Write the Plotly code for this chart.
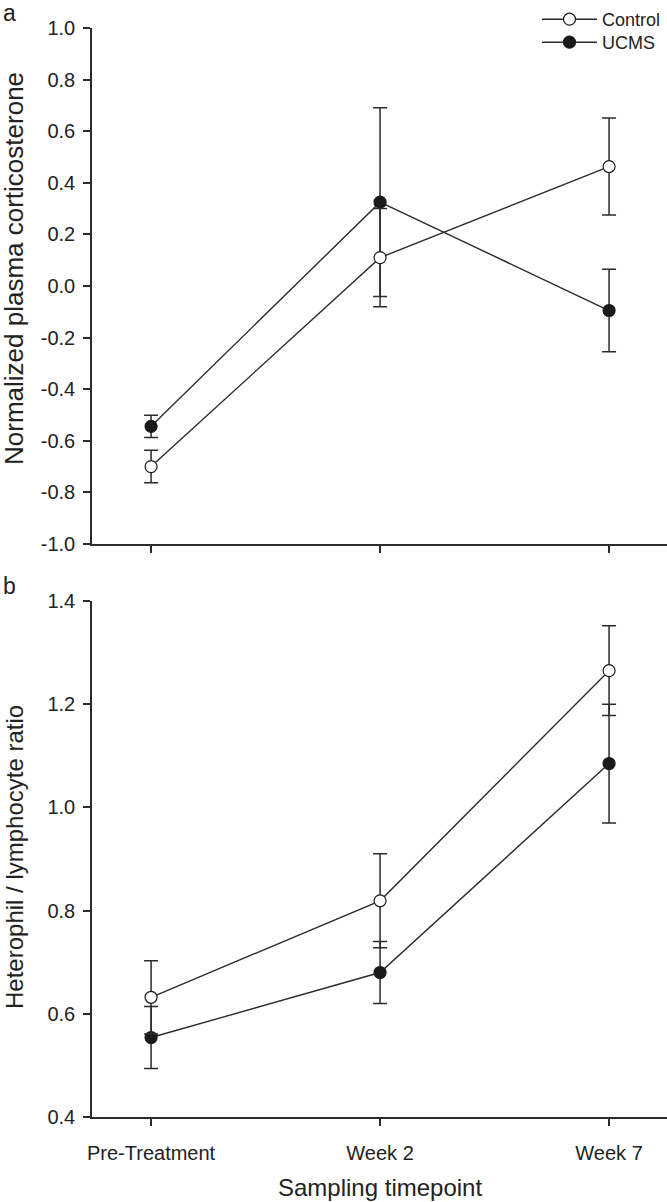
import plotly.graph_objects as go

categories = ["Pre-Treatment", "Week 2", "Week 7"]

cort_control = [-0.700, 0.110, 0.463]
cort_control_err = [0.063, 0.190, 0.188]
cort_ucms = [-0.544, 0.325, -0.095]
cort_ucms_err = [0.043, 0.366, 0.160]

hl_control = [0.632, 0.819, 1.265]
hl_control_err = [0.071, 0.091, 0.087]
hl_ucms = [0.554, 0.680, 1.085]
hl_ucms_err = [0.060, 0.060, 0.115]

cort_ticks = [-1.0, -0.8, -0.6, -0.4, -0.2, 0.0, 0.2, 0.4, 0.6, 0.8, 1.0]
hl_ticks = [0.4, 0.6, 0.8, 1.0, 1.2, 1.4]

W, H = 667, 1202


def px(x):
    return x / W


def py(y):
    return 1 - y / H


LINE = "#2b2b2b"
FONT = "Liberation Sans, Arial, Helvetica, sans-serif"

fig = go.Figure()


def add_series(x, y, err, name, fill, xa, ya):
    fig.add_trace(go.Scatter(
        x=x, y=y, name=name, mode="lines+markers",
        xaxis=xa, yaxis=ya, showlegend=False,
        line=dict(color=LINE, width=1.4),
        marker=dict(symbol="circle", size=12, color=fill,
                    line=dict(color="#1a1a1a", width=1.2)),
        error_y=dict(type="data", array=err, visible=True,
                     color=LINE, thickness=1.5, width=7),
    ))


add_series(categories, cort_ucms, cort_ucms_err, "UCMS", "#1a1a1a", "x", "y")
add_series(categories, cort_control, cort_control_err, "Control", "white", "x", "y")
add_series(categories, hl_ucms, hl_ucms_err, "UCMS", "#1a1a1a", "x2", "y2")
add_series(categories, hl_control, hl_control_err, "Control", "white", "x2", "y2")

# legend entries
fig.add_trace(go.Scatter(x=[None], y=[None], name="Control", mode="lines+markers",
                         xaxis="x", yaxis="y", legend="legend",
                         line=dict(color=LINE, width=1.4),
                         marker=dict(size=12, color="white", line=dict(color="#1a1a1a", width=1.2))))
fig.add_trace(go.Scatter(x=[None], y=[None], name="UCMS", mode="lines+markers",
                         xaxis="x", yaxis="y", legend="legend2",
                         line=dict(color=LINE, width=1.4),
                         marker=dict(size=12, color="#1a1a1a", line=dict(color="#1a1a1a", width=1.2))))

xdom = [px(92), 1.0]
ydom_top = [py(544), py(28)]
ydom_bot = [py(1117), py(601)]

axis_common = dict(showline=True, linecolor=LINE, linewidth=1.5, ticks="outside",
                   ticklen=7, tickwidth=1.5, tickcolor=LINE, showgrid=False,
                   zeroline=False, automargin=False,
                   tickfont=dict(family=FONT, size=20, color="#222"))

legend_common = dict(xanchor="left", yanchor="top", bgcolor="rgba(0,0,0,0)",
                     font=dict(family=FONT, size=18, color="#222"), itemwidth=55)

fig.update_layout(
    width=W, height=H,
    margin=dict(l=0, r=0, t=0, b=0, autoexpand=False),
    paper_bgcolor="white", plot_bgcolor="white",
    font=dict(family=FONT, color="#222"),
    xaxis=dict(domain=xdom, anchor="y", type="category", range=[-0.258, 2.253],
               showticklabels=False, **axis_common),
    yaxis=dict(domain=ydom_top, anchor="x", range=[-1.0, 1.0], tickvals=cort_ticks,
               ticktext=[f"{v:.1f}" for v in cort_ticks], ticklabelstandoff=4,
               **axis_common),
    xaxis2=dict(domain=xdom, anchor="y2", type="category", range=[-0.258, 2.253],
                ticklabelstandoff=10, **axis_common),
    yaxis2=dict(domain=ydom_bot, anchor="x2", range=[0.4, 1.4], tickvals=hl_ticks,
                ticktext=[f"{v:.1f}" for v in hl_ticks], ticklabelstandoff=4,
                **axis_common),
    legend=dict(x=px(537), y=py(1), **legend_common),
    legend2=dict(x=px(537), y=py(24), **legend_common),
    annotations=[
        dict(text="Normalized plasma corticosterone", xref="paper", yref="paper",
             x=px(14), y=py(269), xanchor="center", yanchor="middle",
             textangle=-90, showarrow=False, font=dict(family=FONT, size=26, color="#222")),
        dict(text="Heterophil / lymphocyte ratio", xref="paper", yref="paper",
             x=px(14), y=py(857), xanchor="center", yanchor="middle",
             textangle=-90, showarrow=False, font=dict(family=FONT, size=24, color="#222")),
        dict(text="Sampling timepoint", xref="paper", yref="paper",
             x=px(380), y=py(1187), xanchor="center", yanchor="middle",
             showarrow=False, font=dict(family=FONT, size=24, color="#222")),
        dict(text="a", xref="paper", yref="paper", x=px(9), y=py(13),
             xanchor="center", yanchor="middle", showarrow=False,
             font=dict(family=FONT, size=23, color="#222")),
        dict(text="b", xref="paper", yref="paper", x=px(9), y=py(586),
             xanchor="center", yanchor="middle", showarrow=False,
             font=dict(family=FONT, size=23, color="#222")),
    ],
)

# remove the default 8px page margin so the figure fills the window exactly
fig.write_html("out.html", config={"displayModeBar": False},
               post_script="document.body.style.margin='0px';")
